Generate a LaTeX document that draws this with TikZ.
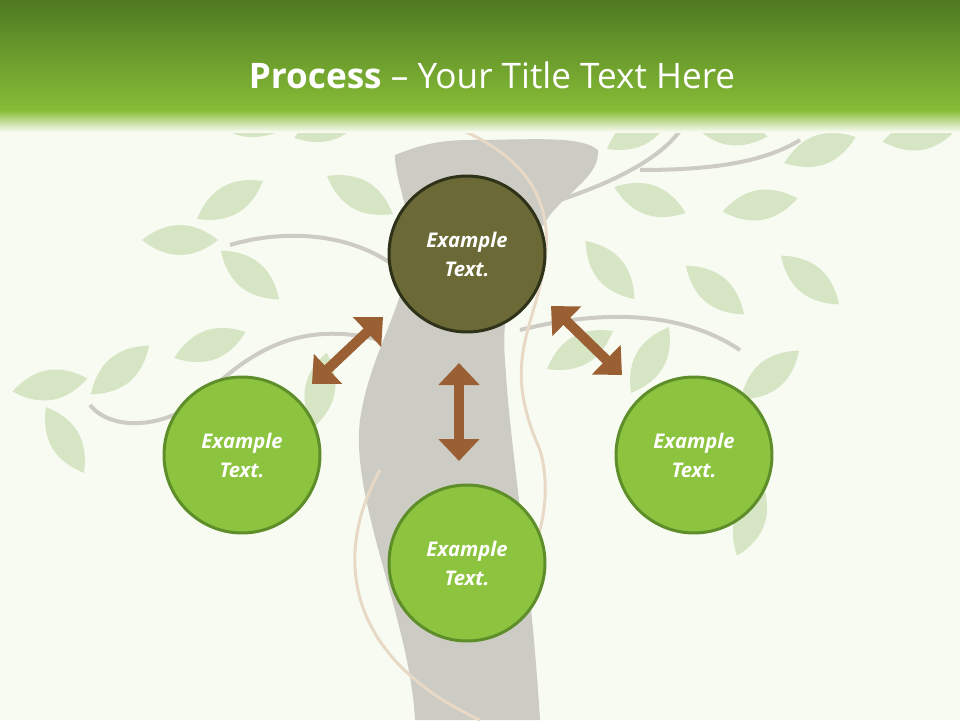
\documentclass[tikz,border=0pt]{standalone}
\usepackage{fontspec}
\setmainfont{Open Sans}
\usetikzlibrary{arrows.meta,shapes.arrows}
\definecolor{bg}{HTML}{F8FBF2}
\definecolor{hdark}{HTML}{4F7A22}
\definecolor{hlight}{HTML}{86BC36}
\definecolor{leaf}{HTML}{D6E6C4}
\definecolor{trunk}{HTML}{CDCCC4}
\definecolor{vine}{HTML}{E8D9C6}
\definecolor{olive}{HTML}{6B6A36}
\definecolor{olivedge}{HTML}{2E3218}
\definecolor{lgreen}{HTML}{8CC43F}
\definecolor{gedge}{HTML}{5E8E2A}
\definecolor{brown}{HTML}{9A5F32}
\tikzset{
 circ/.style={circle,minimum size=3.12cm,line width=0.06cm,draw=gedge,fill=lgreen,text=white,font=\bfseries\itshape\fontsize{11.5}{16.5}\selectfont,align=center},
 dbl/.style={brown,line width=0.2cm,{Triangle[width=0.8cm,length=0.44cm]}-{Triangle[width=0.8cm,length=0.44cm]}},
 lf/.style={fill=leaf},
 br/.style={draw=trunk,line width=0.08cm},
}
\begin{document}
\begin{tikzpicture}[x=0.02cm,y=-0.02cm]
\useasboundingbox (0,0) rectangle (960,720);
\fill[bg] (0,0) rectangle (960,720);
% leaves
\foreach \x/\y/\a in {240/120/-20,330/125/20,230/200/30,360/195/-30,180/240/0,250/275/-40,210/345/20,120/370/40,50/385/10,65/440/-60,320/390/80,
640/130/30,730/130/-10,820/150/20,920/135/10,650/200/-20,760/205/10,610/270/-50,715/290/-40,810/280/-40,580/350/30,650/360/60,770/375/40,750/520/70}
 \fill[lf,rotate around={\a:(\x,\y)}] (\x-38,\y) .. controls (\x-10,\y-22) and (\x+15,\y-18) .. (\x+38,\y) .. controls (\x+15,\y+18) and (\x-10,\y+22) .. (\x-38,\y);
% branches
\draw[br] (400,270) .. controls (350,230) and (280,230) .. (230,245);
\draw[br] (380,340) .. controls (300,320) and (250,350) .. (200,400) .. controls (160,430) and (110,430) .. (90,405);
\draw[br] (560,200) .. controls (620,180) and (680,150) .. (690,110);
\draw[br] (640,170) .. controls (700,170) and (760,165) .. (800,140);
\draw[br] (520,330) .. controls (600,310) and (680,310) .. (740,350);
% trunk
\fill[trunk] (395,155) .. controls (420,145) and (440,140) .. (470,140) .. controls (530,140) and (580,135) .. (598,150)
 .. controls (600,175) and (570,190) .. (550,215) .. controls (520,260) and (500,300) .. (505,360)
 .. controls (510,450) and (530,560) .. (540,720) -- (415,720) .. controls (410,620) and (350,500) .. (360,420)
 .. controls (370,350) and (410,300) .. (410,240) .. controls (410,210) and (395,180) .. (395,155) -- cycle;
% vines
\draw[vine,line width=0.06cm] (420,110) .. controls (450,130) and (560,150) .. (545,260) .. controls (535,330) and (500,360) .. (540,450) .. controls (560,520) and (520,600) .. (470,640);
\draw[vine,line width=0.06cm] (380,470) .. controls (330,560) and (350,660) .. (480,720);
% header
\shade[top color=hdark,bottom color=hlight] (0,0) rectangle (960,110);
\shade[top color=hlight,bottom color=bg] (0,110) rectangle (960,132);
\node[text=white,font=\fontsize{20}{24}\selectfont] (title) at (492,75) {\textbf{Process} -- Your Title Text Here};
% circles
\node[circ,fill=olive,draw=olivedge] (top) at (467,254) {Example\\Text.};
\node[circ] (left) at (242,455) {Example\\Text.};
\node[circ] (right) at (694,455) {Example\\Text.};
\node[circ] (bot) at (467,563) {Example\\Text.};
\coordinate (a1) at (312,384); \coordinate (a2) at (383,317);
\coordinate (b1) at (551,306); \coordinate (b2) at (622,375);
\coordinate (c1) at (459,363); \coordinate (c2) at (459,461);
\draw[dbl] (a1) -- (a2);
\draw[dbl] (b1) -- (b2);
\draw[dbl] (c1) -- (c2);
\end{tikzpicture}
\end{document}
